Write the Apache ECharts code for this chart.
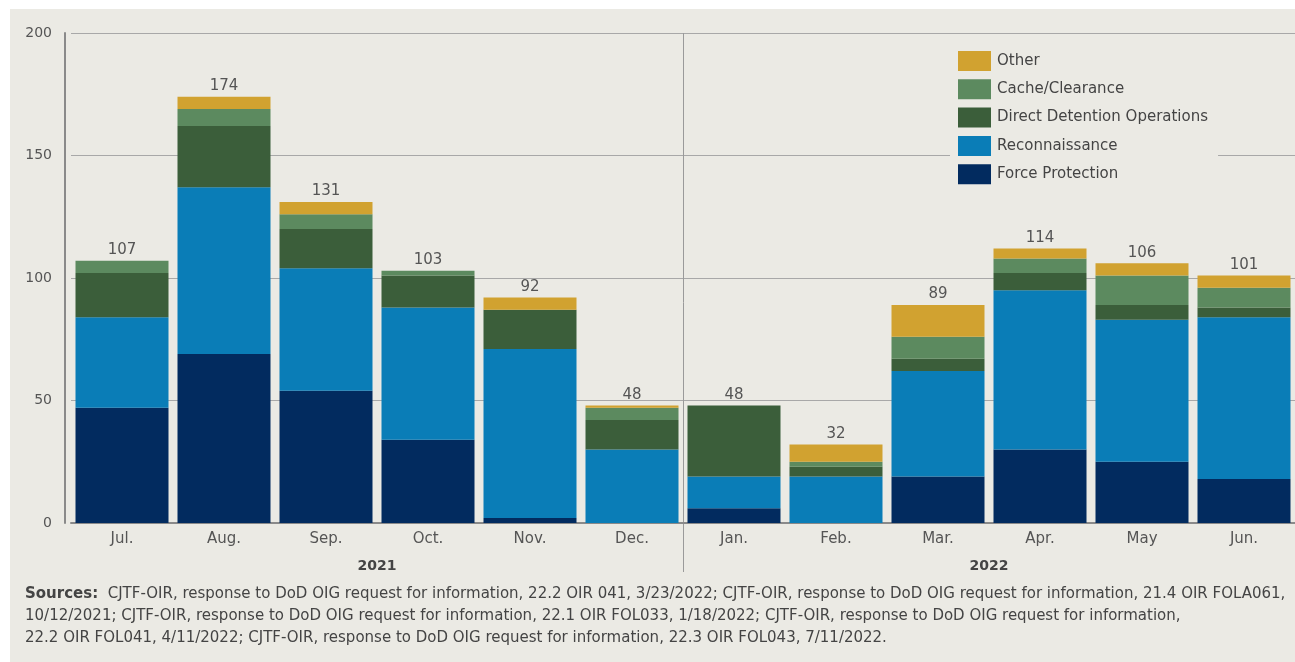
<!DOCTYPE html>
<html>
<head>
<meta charset="utf-8">
<script src="https://cdn.jsdelivr.net/npm/echarts@6/dist/echarts.min.js"></script>
<style>
  html, body { margin: 0; padding: 0; background: #ffffff; }
  #chart { position: absolute; left: 10px; top: 9px; width: 1285px; height: 653px; }
</style>
</head>
<body>
<div id="chart"></div>
<script>
// months and year groups
var months = ['Jul.', 'Aug.', 'Sep.', 'Oct.', 'Nov.', 'Dec.', 'Jan.', 'Feb.', 'Mar.', 'Apr.', 'May', 'Jun.'];
var years = ['2021', '2022'];
var yearBreak = 6; // first month of 2022

// stacked values
var forceProtection = [47, 69, 54, 34, 2, 0, 6, 0, 19, 30, 25, 18];
var reconnaissance = [37, 68, 50, 54, 69, 30, 13, 19, 43, 65, 58, 66];
var directDetention = [18, 25, 16, 13, 16, 12, 29, 4, 5, 7, 6, 4];
var cacheClearance = [5, 7, 6, 2, 0, 5, 0, 2, 9, 6, 12, 8];
var other = [0, 5, 5, 0, 5, 1, 0, 7, 13, 4, 5, 5];
// totals as printed above the bars
var totals = [107, 174, 131, 103, 92, 48, 48, 32, 89, 114, 106, 101];

var yTicks = [0, 50, 100, 150, 200];

var sourcesText = [
  '{b|Sources:}  CJTF-OIR, response to DoD OIG request for information, 22.2 OIR 041, 3/23/2022; CJTF-OIR, response to DoD OIG request for information, 21.4 OIR FOLA061,',
  '10/12/2021; CJTF-OIR, response to DoD OIG request for information, 22.1 OIR FOL033, 1/18/2022; CJTF-OIR, response to DoD OIG request for information,',
  '22.2 OIR FOL041, 4/11/2022; CJTF-OIR, response to DoD OIG request for information, 22.3 OIR FOL043, 7/11/2022.'
];

var font = 'DejaVu Sans';
var colors = {
  fp: '#022b5f',
  recon: '#0a7db7',
  ddo: '#3b5e3a',
  cache: '#5c8a5f',
  other: '#d1a230'
};

var stackTops = months.map(function (m, i) {
  return forceProtection[i] + reconnaissance[i] + directDetention[i] + cacheClearance[i] + other[i];
});

function layer(name, data, color) {
  return {
    name: name,
    type: 'bar',
    stack: 'ops',
    data: data,
    barWidth: 93,
    itemStyle: { color: color },
    silent: true
  };
}

var chart = echarts.init(document.getElementById('chart'));
chart.setOption({
  backgroundColor: '#ebeae4',
  animation: false,
  textStyle: { fontFamily: font },
  title: {
    text: sourcesText.join('\n'),
    left: 15,
    top: 574,
    padding: 0,
    textStyle: {
      fontFamily: font,
      fontSize: 15,
      fontWeight: 'normal',
      color: '#444',
      lineHeight: 22,
      rich: {
        b: { fontFamily: font, fontSize: 15, fontWeight: 'bold', color: '#444', lineHeight: 22 }
      }
    }
  },
  legend: {
    orient: 'vertical',
    left: 940,
    top: 34,
    padding: [8, 10, 8, 8],
    backgroundColor: '#ebeae4',
    icon: 'rect',
    itemWidth: 33,
    itemHeight: 20,
    itemGap: 8.3,
    data: ['Other', 'Cache/Clearance', 'Direct Detention Operations', 'Reconnaissance', 'Force Protection'],
    textStyle: { fontFamily: font, fontSize: 15, color: '#444', padding: [0, 0, 0, 1] },
    selectedMode: false
  },
  grid: { left: 61, right: 0, top: 24, bottom: 139 },
  xAxis: [
    {
      type: 'category',
      data: months,
      axisLine: { lineStyle: { color: '#8a8a8a', width: 2 } },
      axisTick: { show: false },
      axisLabel: { fontFamily: font, fontSize: 15, color: '#555', margin: 9 }
    },
    {
      type: 'category',
      data: years,
      position: 'bottom',
      offset: 34,
      axisLine: { show: false },
      axisTick: { show: false },
      axisLabel: { fontFamily: font, fontSize: 14, fontWeight: 'bold', color: '#444', margin: 2 }
    }
  ],
  yAxis: {
    type: 'value',
    min: yTicks[0],
    max: yTicks[yTicks.length - 1],
    interval: 50,
    offset: 6,
    axisLine: { show: true, lineStyle: { color: '#8a8a8a', width: 2 } },
    axisTick: { show: false },
    splitLine: { lineStyle: { color: '#a8a8a8', width: 1 } },
    axisLabel: { fontFamily: font, fontSize: 14, color: '#555', margin: 13 }
  },
  series: [
    layer('Force Protection', forceProtection, colors.fp),
    layer('Reconnaissance', reconnaissance, colors.recon),
    layer('Direct Detention Operations', directDetention, colors.ddo),
    layer('Cache/Clearance', cacheClearance, colors.cache),
    layer('Other', other, colors.other),
    {
      name: 'Total',
      type: 'bar',
      data: stackTops,
      barWidth: 93,
      barGap: '-100%',
      z: 1,
      silent: true,
      itemStyle: { color: 'rgba(0,0,0,0)' },
      label: {
        show: true,
        position: 'top',
        distance: 3,
        fontFamily: font,
        fontSize: 15,
        color: '#555',
        formatter: function (p) { return totals[p.dataIndex]; }
      }
    },
    {
      // year divider: left edge of the first 2022 month, running down past the axis
      name: 'divider',
      type: 'custom',
      silent: true,
      z: 0,
      data: [[yearBreak, yTicks[yTicks.length - 1]]],
      renderItem: function (params, api) {
        var top = api.coord([api.value(0), api.value(1)]);
        var base = api.coord([api.value(0), 0]);
        var half = api.size([1, 0])[0] / 2;
        var x = Math.round(top[0] - half) + 0.5;
        return {
          type: 'line',
          shape: { x1: x, y1: top[1], x2: x, y2: base[1] + 49 },
          style: { stroke: '#9a9a9a', lineWidth: 1 }
        };
      }
    }
  ]
});
</script>
</body>
</html>
